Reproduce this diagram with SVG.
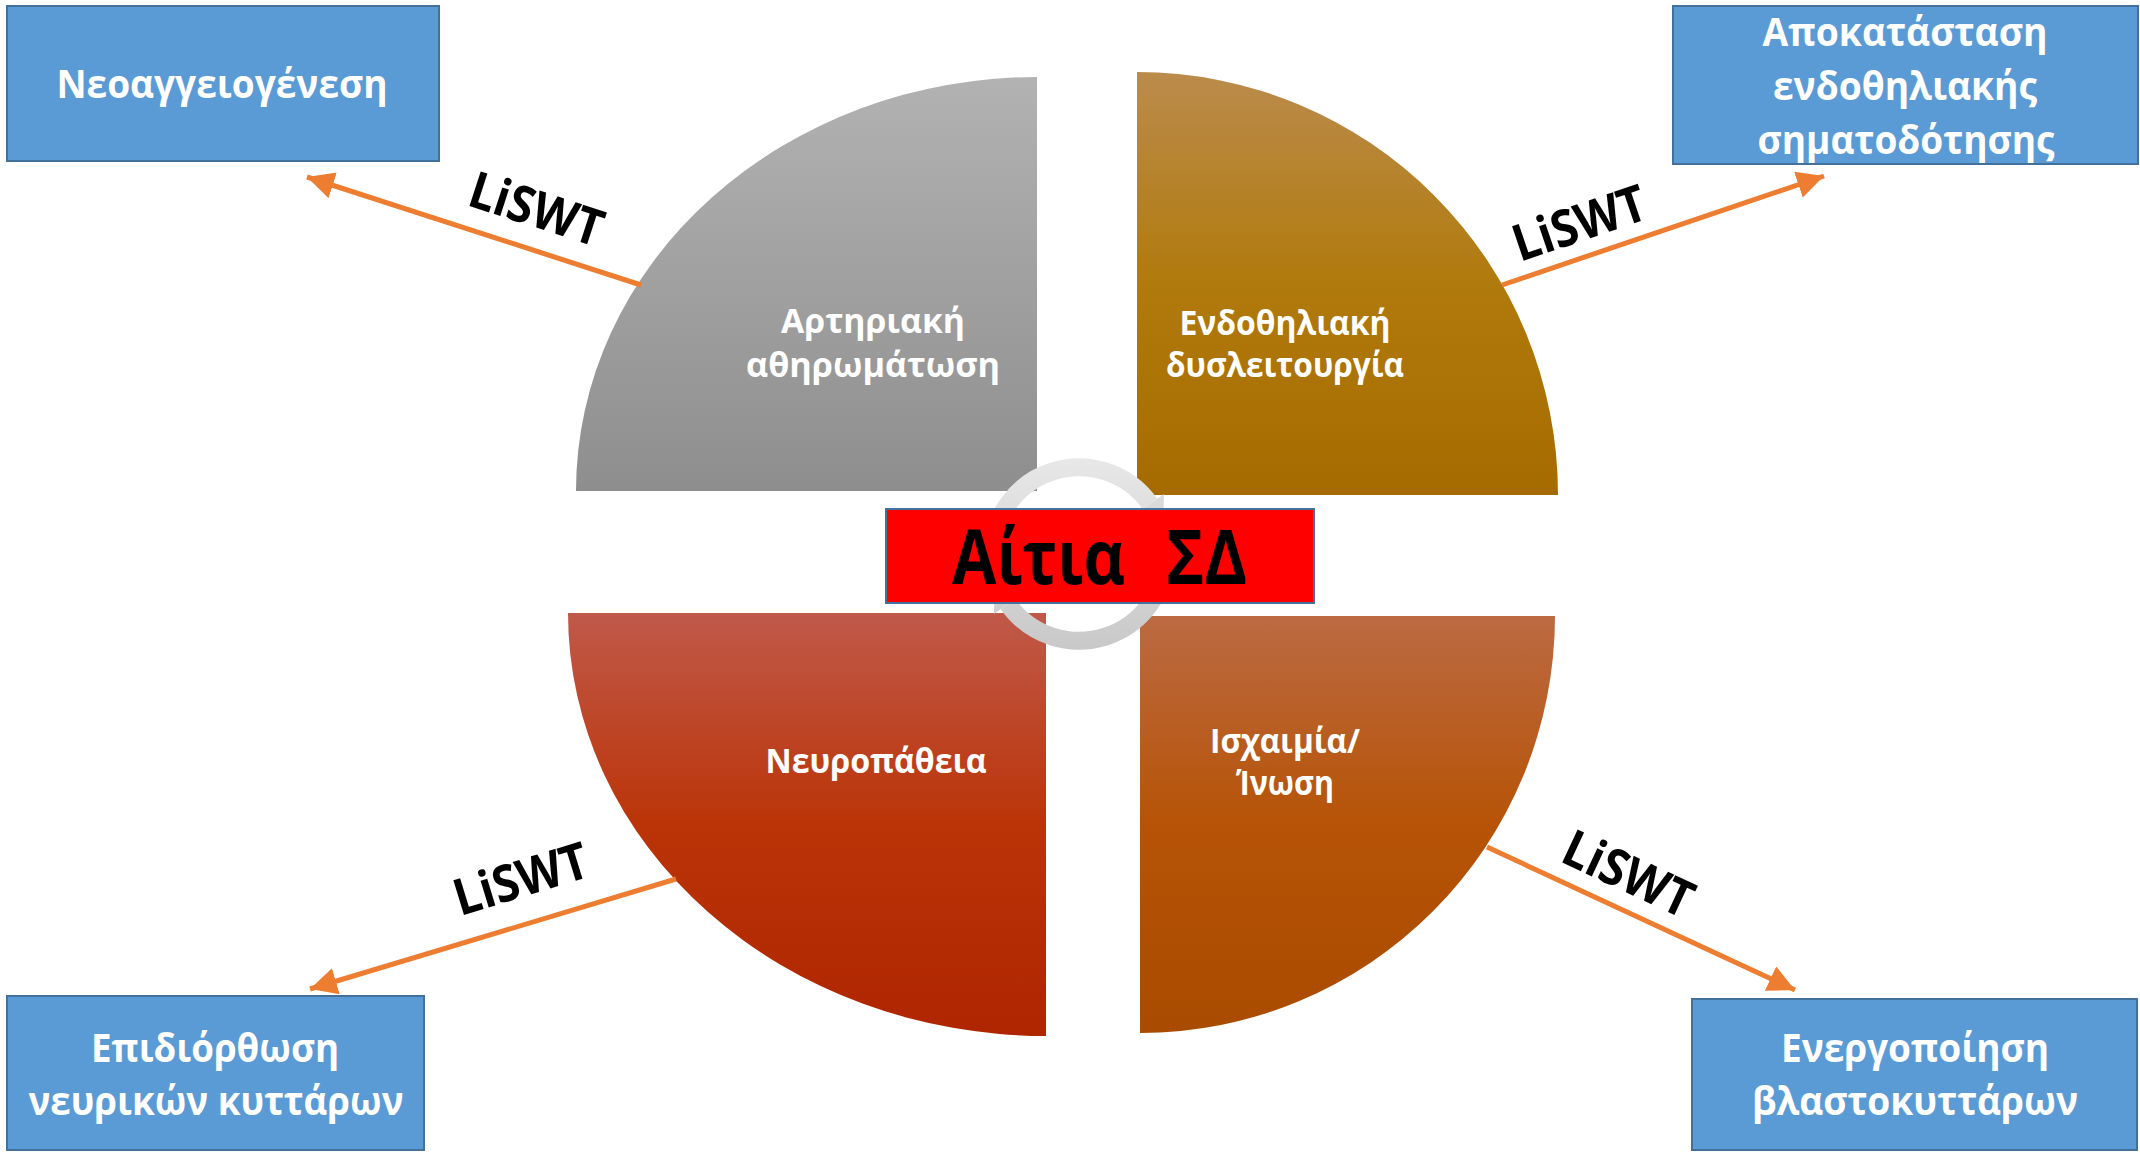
<svg xmlns="http://www.w3.org/2000/svg" width="2140" height="1152" viewBox="0 0 2140 1152">
<style>
.q{font-family:"Open Sans","Noto Sans","DejaVu Sans",sans-serif;font-weight:700;fill:#fff;font-size:34px;text-anchor:middle}
.b{font-family:"Open Sans","Noto Sans","DejaVu Sans",sans-serif;font-weight:700;fill:#fff;font-size:40px;text-anchor:middle}
.box{fill:#5b9bd5;stroke:#41719c;stroke-width:2}
.lbl{font-family:"Open Sans","Noto Sans","DejaVu Sans",sans-serif;font-weight:700;fill:#000;font-size:51px;text-anchor:middle}
.arr{stroke:#ed7d31;stroke-width:5;fill:none;marker-end:url(#ah)}
.ring{fill:none;stroke:url(#gRing);stroke-width:18}
</style>
<defs>
<linearGradient id="gGray" x1="0" y1="0" x2="0" y2="1"><stop offset="0" stop-color="#b2b2b2"/><stop offset="1" stop-color="#8e8e8e"/></linearGradient>
<linearGradient id="gBrown" x1="0" y1="0" x2="0" y2="1"><stop offset="0" stop-color="#bb8b4c"/><stop offset="0.5" stop-color="#b17a0c"/><stop offset="1" stop-color="#a66b00"/></linearGradient>
<linearGradient id="gRed" x1="0" y1="0" x2="0" y2="1"><stop offset="0" stop-color="#c0594a"/><stop offset="0.5" stop-color="#bb3408"/><stop offset="1" stop-color="#ae2500"/></linearGradient>
<linearGradient id="gOrange" x1="0" y1="0" x2="0" y2="1"><stop offset="0" stop-color="#bc6a43"/><stop offset="0.5" stop-color="#b65306"/><stop offset="1" stop-color="#a94b00"/></linearGradient>
<linearGradient id="gRing" gradientUnits="userSpaceOnUse" x1="0" y1="456" x2="0" y2="652"><stop offset="0" stop-color="#e8e8e8"/><stop offset="1" stop-color="#c8c8c8"/></linearGradient>
<marker id="ah" markerUnits="userSpaceOnUse" markerWidth="30" markerHeight="28" refX="27" refY="13.5" orient="auto"><path d="M0,0 L27,13.5 L0,27 Z" fill="#ed7d31"/></marker>
</defs>

<g id="quadrant-arteriosclerosis">
<path d="M1037,491 L576,491 A461,414 0 0 1 1037,77 Z" fill="url(#gGray)"/>
<text class="q" x="873" y="333" textLength="184" lengthAdjust="spacingAndGlyphs">Αρτηριακή</text>
<text class="q" x="873" y="377" textLength="254" lengthAdjust="spacingAndGlyphs">αθηρωμάτωση</text>
</g>
<g id="quadrant-endothelial">
<path d="M1137,495 L1137,72 A421,423 0 0 1 1558,495 Z" fill="url(#gBrown)"/>
<text class="q" x="1285" y="335" textLength="211" lengthAdjust="spacingAndGlyphs">Ενδοθηλιακή</text>
<text class="q" x="1285" y="377" textLength="238" lengthAdjust="spacingAndGlyphs">δυσλειτουργία</text>
</g>
<g id="quadrant-neuropathy">
<path d="M1046,613 L1046,1036 A478,423 0 0 1 568,613 Z" fill="url(#gRed)"/>
<text class="q" x="876" y="773" textLength="221" lengthAdjust="spacingAndGlyphs">Νευροπάθεια</text>
</g>
<g id="quadrant-ischemia">
<path d="M1140,616 L1555,616 A415,417 0 0 1 1140,1033 Z" fill="url(#gOrange)"/>
<text class="q" x="1285" y="753" textLength="150" lengthAdjust="spacingAndGlyphs">Ισχαιμία/</text>
<text class="q" x="1285" y="795" textLength="98" lengthAdjust="spacingAndGlyphs">Ίνωση</text>
</g>

<g id="cycle-ring">
<path class="ring" d="M992,554 A87,87 0 0 1 1150,504"/>
<path d="M1136,514 L1164,494 L1163,531 Z" fill="#dadada"/>
<path class="ring" d="M1166,554 A87,87 0 0 1 1008,604"/>
<path d="M1022,594 L994,614 L995,577 Z" fill="#cfcfcf"/>
</g>

<g id="center">
<rect x="886" y="509" width="428" height="94" fill="#ff0000" stroke="#41719c" stroke-width="2"/>
<text y="584" style="white-space:pre" font-family="Open Sans, Noto Sans, DejaVu Sans, sans-serif" font-weight="700" font-size="76" fill="#000"><tspan x="952" textLength="173" lengthAdjust="spacingAndGlyphs">Αίτια</tspan> <tspan x="1166" textLength="81" lengthAdjust="spacingAndGlyphs">ΣΔ</tspan></text>
</g>

<g id="box-neoangiogenesis">
<rect class="box" x="7" y="6" width="432" height="155"/>
<text class="b" x="222" y="98" textLength="331" lengthAdjust="spacingAndGlyphs">Νεοαγγειογένεση</text>
</g>
<g id="box-endothelial-signaling">
<rect class="box" x="1673" y="6" width="465" height="158"/>
<text class="b" x="1905" y="46" textLength="285" lengthAdjust="spacingAndGlyphs">Αποκατάσταση</text>
<text class="b" x="1905" y="100" textLength="264" lengthAdjust="spacingAndGlyphs">ενδοθηλιακής</text>
<text class="b" x="1906" y="154" textLength="297" lengthAdjust="spacingAndGlyphs">σηματοδότησης</text>
</g>
<g id="box-nerve-repair">
<rect class="box" x="7" y="996" width="417" height="154"/>
<text class="b" x="215" y="1062" textLength="248" lengthAdjust="spacingAndGlyphs">Επιδιόρθωση</text>
<text class="b" x="216" y="1115" textLength="375" lengthAdjust="spacingAndGlyphs">νευρικών κυττάρων</text>
</g>
<g id="box-stem-cells">
<rect class="box" x="1692" y="999" width="445" height="151"/>
<text class="b" x="1915" y="1062" textLength="268" lengthAdjust="spacingAndGlyphs">Ενεργοποίηση</text>
<text class="b" x="1915" y="1115" textLength="326" lengthAdjust="spacingAndGlyphs">βλαστοκυττάρων</text>
</g>

<g id="connectors">
<line class="arr" x1="641" y1="285" x2="307" y2="177"/>
<line class="arr" x1="1502" y1="285" x2="1824" y2="176"/>
<line class="arr" x1="676" y1="879" x2="310" y2="989"/>
<line class="arr" x1="1487" y1="847" x2="1795" y2="990"/>
<text class="lbl" transform="translate(531,226) rotate(18)" textLength="138" lengthAdjust="spacingAndGlyphs">LiSWT</text>
<text class="lbl" transform="translate(1585,240) rotate(-18.7)" textLength="138" lengthAdjust="spacingAndGlyphs">LiSWT</text>
<text class="lbl" transform="translate(526,896) rotate(-17)" textLength="138" lengthAdjust="spacingAndGlyphs">LiSWT</text>
<text class="lbl" transform="translate(1621,890) rotate(25)" textLength="138" lengthAdjust="spacingAndGlyphs">LiSWT</text>
</g>
</svg>
